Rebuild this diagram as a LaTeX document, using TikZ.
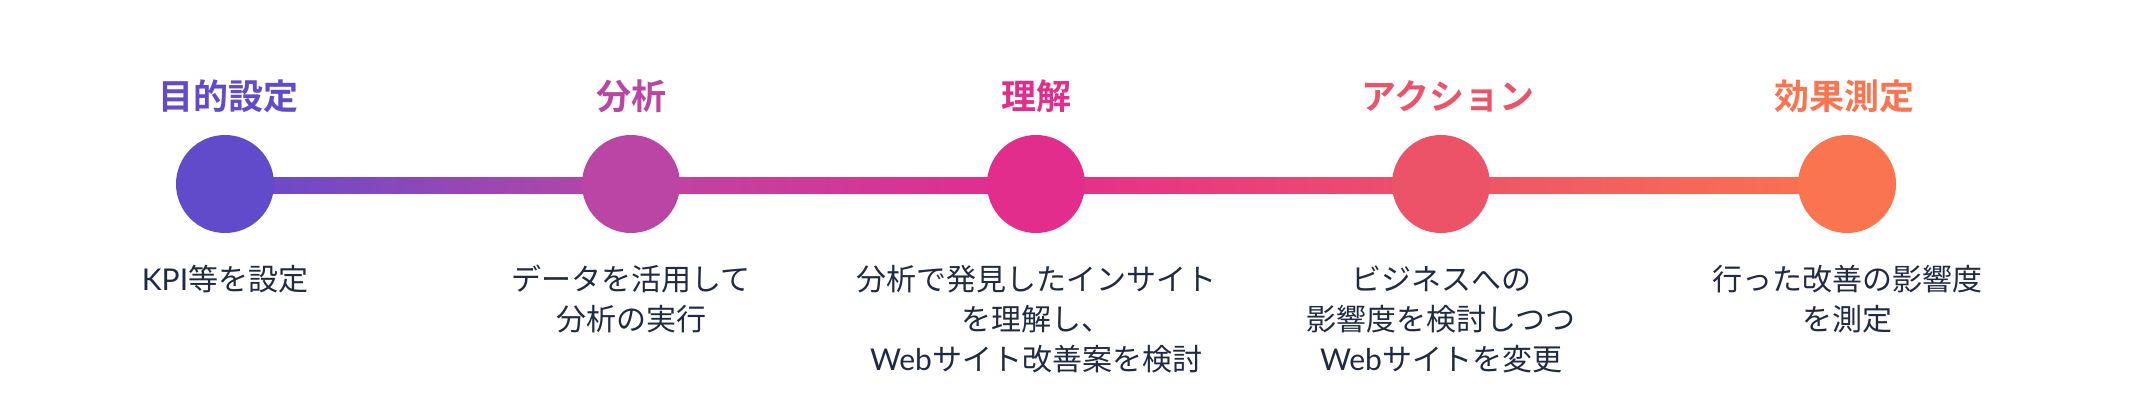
\documentclass[tikz,border=0pt]{standalone}
\usepackage{fontspec}
\setmainfont{Noto Sans CJK JP}[BoldFont={Noto Sans CJK JP Bold}]
\newfontfamily\lato{Lato}
\definecolor{cA}{HTML}{624BCB}
\definecolor{cB}{HTML}{BB45A4}
\definecolor{cC}{HTML}{E32D8C}
\definecolor{cD}{HTML}{EC5369}
\definecolor{cE}{HTML}{FA744F}
\definecolor{txt}{HTML}{1F2A44}
\begin{document}
\begin{tikzpicture}[x=1pt,y=-1pt,
  dot/.style={circle,inner sep=0pt,minimum size=98pt},
  title/.style={anchor=base,inner sep=0pt,font=\fontsize{35}{40}\selectfont\bfseries},
  desc/.style={anchor=base,inner sep=0pt,align=center,text=txt,font=\fontsize{30}{40}\selectfont}]
\useasboundingbox (0,0) rectangle (2134,414);
\fill[white] (0,0) rectangle (2134,414);
% positions
\coordinate (p1) at (225,184);
\coordinate (p2) at (631,184);
\coordinate (p3) at (1036,184);
\coordinate (p4) at (1441,184);
\coordinate (p5) at (1847,184);
% gradient line segments
\shade[left color=cA,right color=cB] (225,178) rectangle (631,193.5);
\shade[left color=cB,right color=cC] (631,178) rectangle (1036,193.5);
\shade[left color=cC,right color=cD] (1036,178) rectangle (1441,193.5);
\shade[left color=cD,right color=cE] (1441,178) rectangle (1847,193.5);
% circles
\node[dot,fill=cA] (c1) at (p1) {};
\node[dot,fill=cB] (c2) at (p2) {};
\node[dot,fill=cC] (c3) at (p3) {};
\node[dot,fill=cD] (c4) at (p4) {};
\node[dot,fill=cE] (c5) at (p5) {};
% titles
\node[title,text=cA] (t1) at (228,110) {目的設定};
\node[title,text=cB] (t2) at (631,110) {分析};
\node[title,text=cC] (t3) at (1036,110) {理解};
\node[title,text=cD] (t4) at (1448,110) {アクション};
\node[title,text=cE] (t5) at (1844,110) {効果測定};
% descriptions (base anchor = last line baseline)
\node[desc] (d1) at (225,290) {{\lato KPI}等を設定};
\node[desc] (d2) at (631,330) {データを活用して\\分析の実行};
\node[desc] (d3) at (1036,370) {分析で発見したインサイト\\を理解し、\\{\lato Web}サイト改善案を検討};
\node[desc] (d4) at (1441,370) {ビジネスへの\\影響度を検討しつつ\\{\lato Web}サイトを変更};
\node[desc] (d5) at (1847,330) {行った改善の影響度\\を測定};
\end{tikzpicture}
\end{document}
